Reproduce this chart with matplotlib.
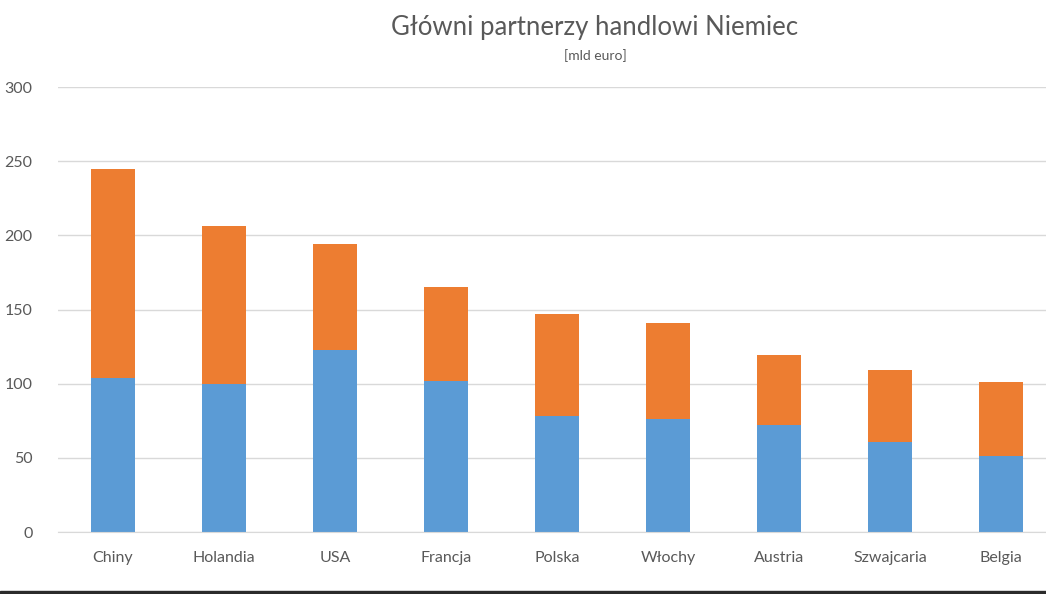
import matplotlib
matplotlib.use("Agg")
import matplotlib.pyplot as plt
from matplotlib.patches import Rectangle

# data (mld euro)
countries = ["Chiny", "Holandia", "USA", "Francja", "Polska", "Włochy", "Austria", "Szwajcaria", "Belgia"]
lower = [104, 100, 123, 102, 78, 76, 72, 61, 51]      # blue part
total = [245, 206, 194, 165, 147, 141, 119, 109, 101]  # bar height incl. orange part
upper = [t - b for t, b in zip(total, lower)]
yticks = [0, 50, 100, 150, 200, 250, 300]

plt.rcParams["font.family"] = ["Lato", "DejaVu Sans"]

fig = plt.figure(figsize=(10.46, 5.94), dpi=100)
ax = fig.add_axes([57.5 / 1046, 1 - 532 / 594, 999 / 1046, 445 / 594])

x = list(range(len(countries)))
ax.bar(x, lower, width=0.4, color="#5B9BD5", zorder=2)
ax.bar(x, upper, width=0.4, bottom=lower, color="#ED7D31", zorder=2)

ax.set_xlim(-0.5, 8.5)
ax.set_ylim(0, 300)
ax.set_yticks(yticks)
ax.set_xticks(x)
ax.set_xticklabels(countries)
ax.grid(axis="y", color="#D9D9D9", linewidth=1, zorder=0)
for s in ["top", "right", "left"]:
    ax.spines[s].set_visible(False)
ax.spines["bottom"].set_color("#D9D9D9")
ax.tick_params(length=0, colors="#595959", labelsize=11.5)
ax.tick_params(axis="x", pad=14)
ax.tick_params(axis="y", pad=18)

fig.text(595 / 1046, 1 - 27 / 594, "Główni partnerzy handlowi Niemiec", ha="center", va="center",
         fontsize=18.5, color="#595959")
fig.text(595 / 1046, 1 - 56 / 594, "[mld euro]", ha="center", va="center", fontsize=10, color="#595959")

# dark strip along the bottom edge of the screenshot
fig.patches.append(Rectangle((0, 0), 1, 3.5 / 594, transform=fig.transFigure, color="#2b2b2b"))

fig.savefig("out.png", dpi=100)
